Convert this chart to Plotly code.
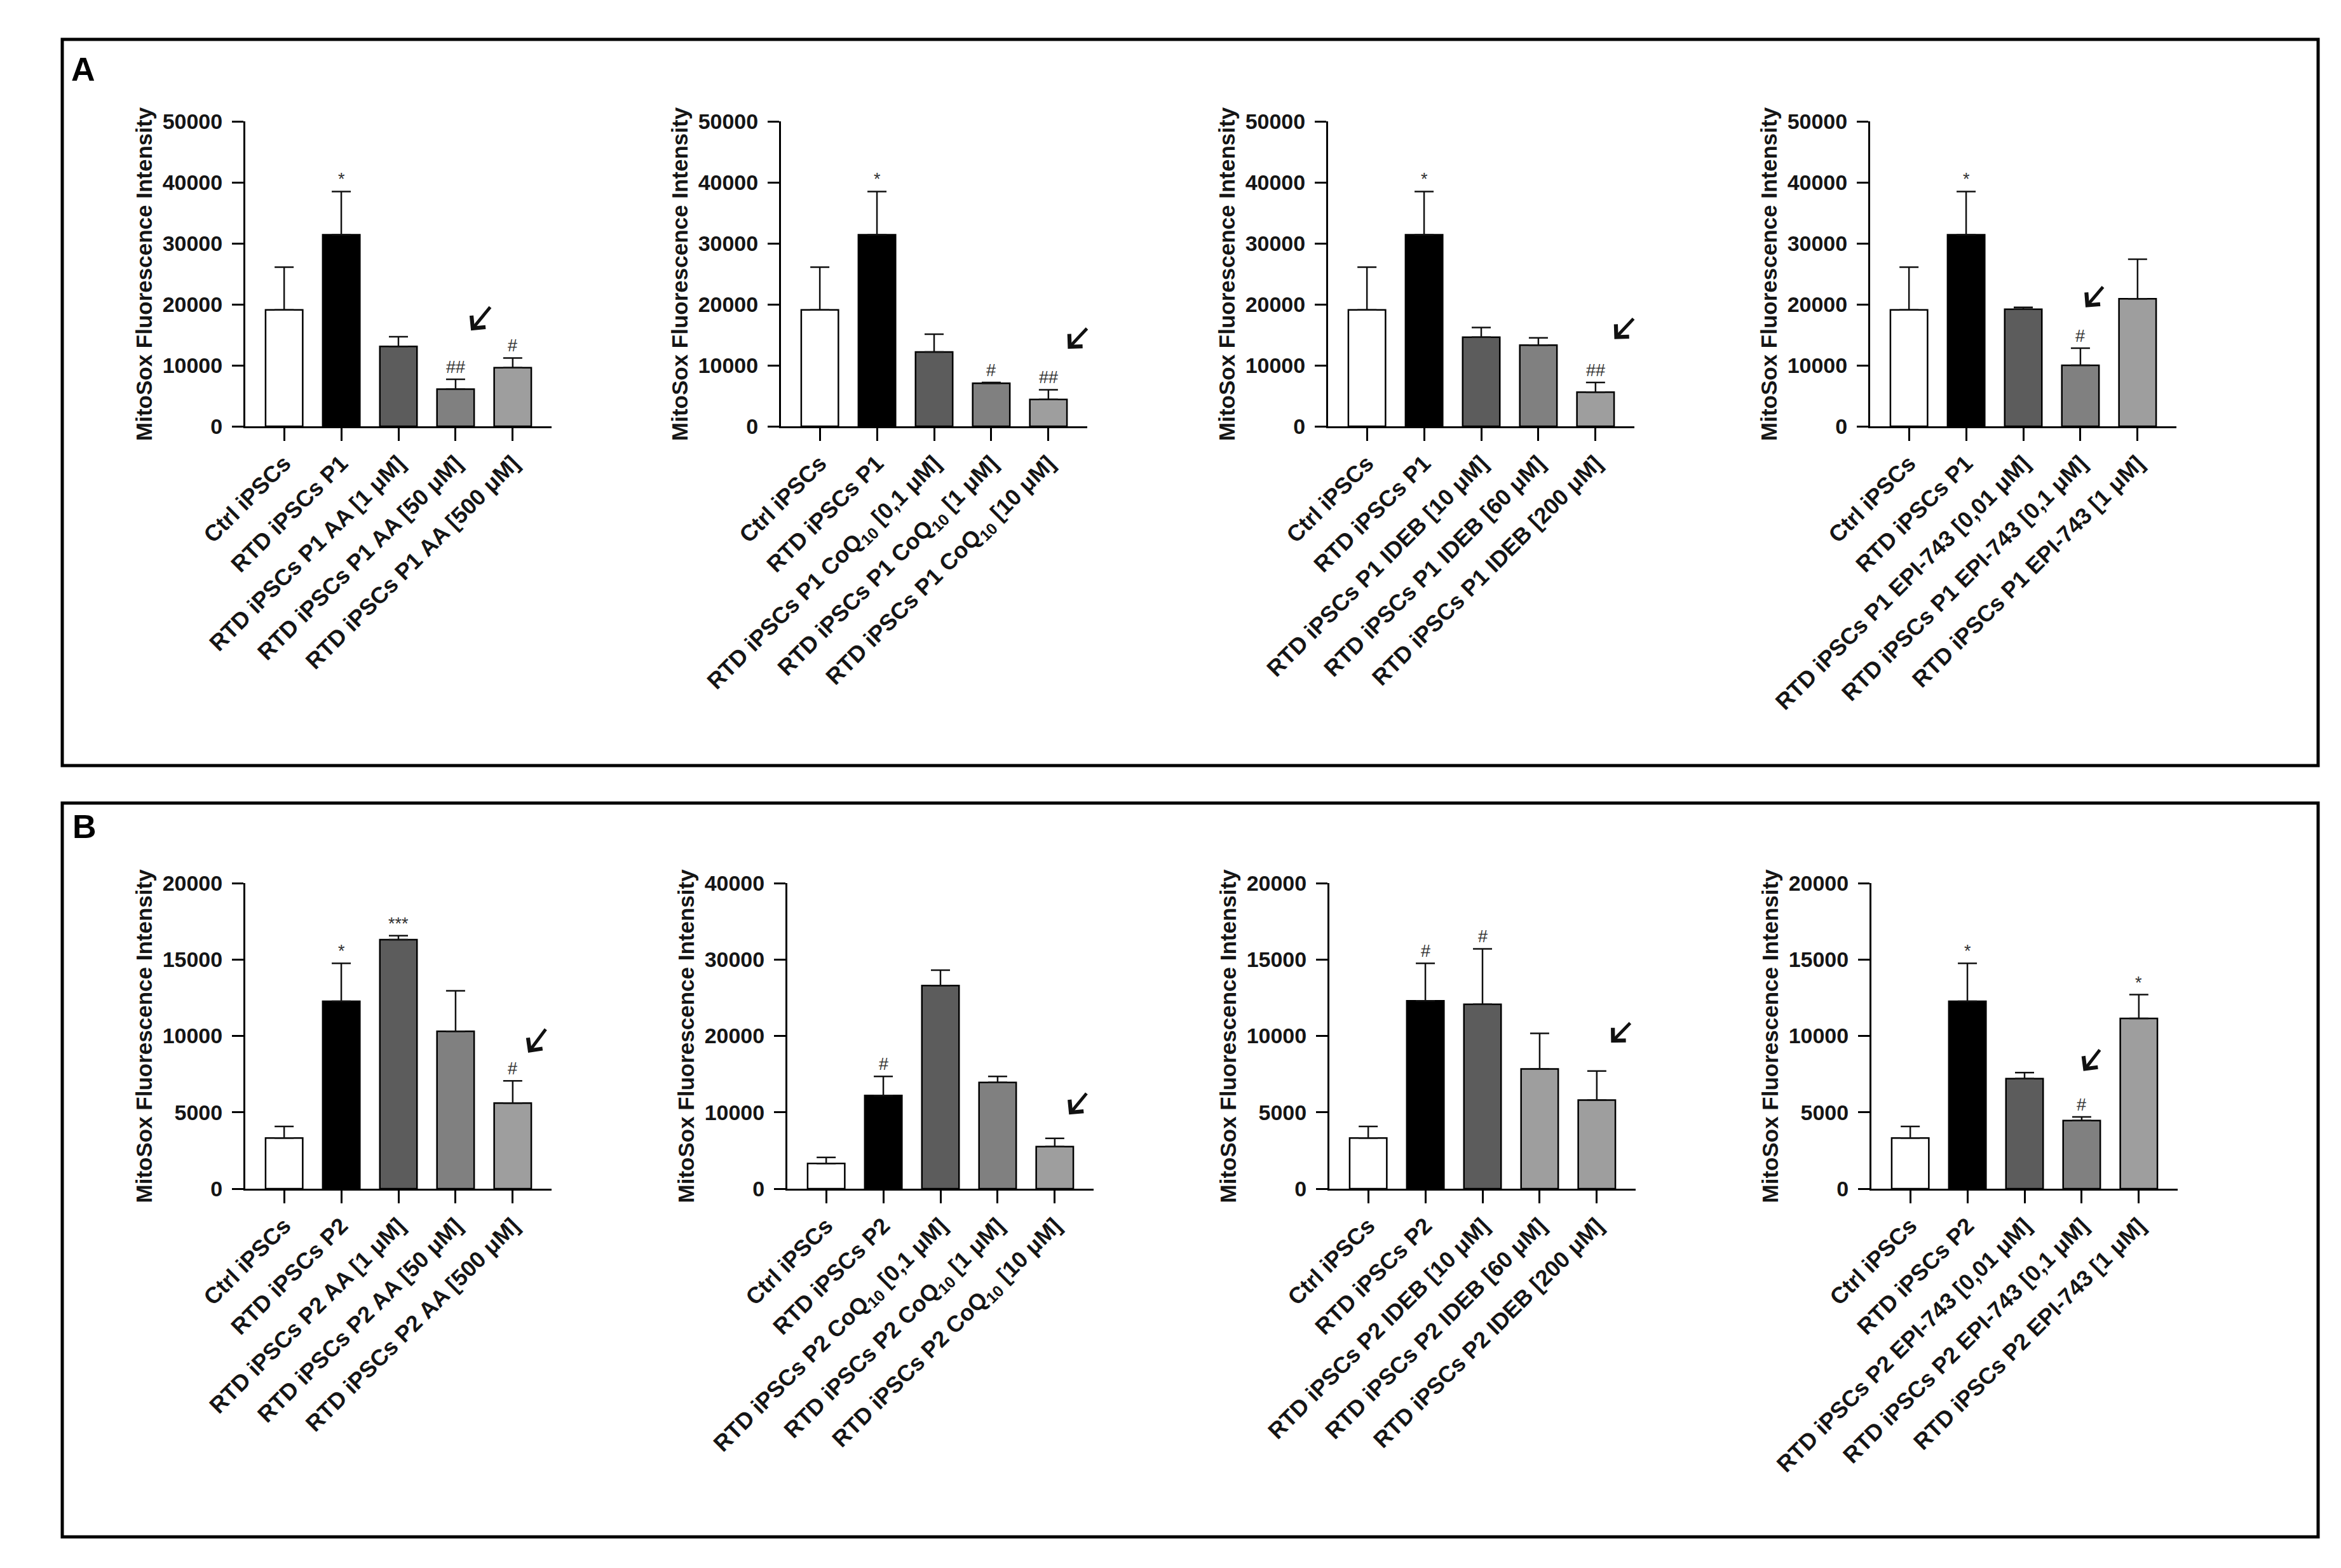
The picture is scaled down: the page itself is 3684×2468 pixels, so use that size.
import plotly.graph_objects as go

W, H = 3684, 2468

# ---------------- data ----------------
labels_A1 = ["Ctrl iPSCs", "RTD iPSCs P1", "RTD iPSCs P1 AA [1 μM]", "RTD iPSCs P1 AA [50 μM]", "RTD iPSCs P1 AA [500 μM]"]
means_A1 = [19100, 31400, 13100, 6100, 9600]
errs_A1 = [7000, 7100, 1600, 1600, 1600]
sig_A1 = ["", "*", "", "##", "#"]

labels_A2 = ["Ctrl iPSCs", "RTD iPSCs P1", "RTD iPSCs P1 CoQ<sub>10</sub> [0,1 μM]", "RTD iPSCs P1 CoQ<sub>10</sub> [1 μM]", "RTD iPSCs P1 CoQ<sub>10</sub> [10 μM]"]
means_A2 = [19100, 31400, 12200, 7050, 4400]
errs_A2 = [7000, 7100, 2900, 150, 1600]
sig_A2 = ["", "*", "", "#", "##"]

labels_A3 = ["Ctrl iPSCs", "RTD iPSCs P1", "RTD iPSCs P1 IDEB [10 μM]", "RTD iPSCs P1 IDEB [60 μM]", "RTD iPSCs P1 IDEB [200 μM]"]
means_A3 = [19100, 31400, 14600, 13300, 5600]
errs_A3 = [7000, 7100, 1600, 1200, 1600]
sig_A3 = ["", "*", "", "", "##"]

labels_A4 = ["Ctrl iPSCs", "RTD iPSCs P1", "RTD iPSCs P1 EPI-743 [0,01 μM]", "RTD iPSCs P1 EPI-743 [0,1 μM]", "RTD iPSCs P1 EPI-743 [1 μM]"]
means_A4 = [19100, 31400, 19200, 10000, 20900]
errs_A4 = [7000, 7100, 300, 2800, 6500]
sig_A4 = ["", "*", "", "#", ""]

labels_B1 = ["Ctrl iPSCs", "RTD iPSCs P2", "RTD iPSCs P2 AA [1 μM]", "RTD iPSCs P2 AA [50 μM]", "RTD iPSCs P2 AA [500 μM]"]
means_B1 = [3320, 12270, 16300, 10300, 5600]
errs_B1 = [760, 2480, 260, 2650, 1460]
sig_B1 = ["", "*", "***", "", "#"]

labels_B2 = ["Ctrl iPSCs", "RTD iPSCs P2", "RTD iPSCs P2 CoQ<sub>10</sub> [0,1 μM]", "RTD iPSCs P2 CoQ<sub>10</sub> [1 μM]", "RTD iPSCs P2 CoQ<sub>10</sub> [10 μM]"]
means_B2 = [3300, 12200, 26600, 13900, 5500]
errs_B2 = [800, 2500, 2000, 800, 1100]
sig_B2 = ["", "#", "", "", ""]

labels_B3 = ["Ctrl iPSCs", "RTD iPSCs P2", "RTD iPSCs P2 IDEB [10 μM]", "RTD iPSCs P2 IDEB [60 μM]", "RTD iPSCs P2 IDEB [200 μM]"]
means_B3 = [3320, 12300, 12070, 7840, 5800]
errs_B3 = [760, 2450, 3630, 2330, 1900]
sig_B3 = ["", "#", "#", "", ""]

labels_B4 = ["Ctrl iPSCs", "RTD iPSCs P2", "RTD iPSCs P2 EPI-743 [0,01 μM]", "RTD iPSCs P2 EPI-743 [0,1 μM]", "RTD iPSCs P2 EPI-743 [1 μM]"]
means_B4 = [3320, 12270, 7200, 4460, 11140]
errs_B4 = [760, 2480, 400, 240, 1560]
sig_B4 = ["", "*", "", "#", "*"]

ymax_A = [50000, 50000, 50000, 50000]
ymax_B = [20000, 40000, 20000, 20000]
ydtick_A = [10000, 10000, 10000, 10000]
ydtick_B = [5000, 10000, 5000, 5000]

# arrow tip / tail in data units (x category index, y value)
arrows = [
    (3.27, 15700, 3.62, 19700),
    (4.34, 12700, 4.69, 16200),
    (4.33, 14300, 4.68, 17800),
    (3.09, 19500, 3.41, 23000),
    (4.27, 8900, 4.59, 10500),
    (4.25, 9700, 4.57, 12600),
    (4.25, 9560, 4.60, 10900),
    (3.03, 7700, 3.33, 9150),
]

WHITE, BLACK, DARK, MID, LIGHT = "#ffffff", "#000000", "#5c5c5c", "#808080", "#9e9e9e"
colors_default = [WHITE, BLACK, DARK, MID, LIGHT]
colors_B3 = [WHITE, BLACK, DARK, LIGHT, LIGHT]

panels = [
    (labels_A1, means_A1, errs_A1, sig_A1, colors_default),
    (labels_A2, means_A2, errs_A2, sig_A2, colors_default),
    (labels_A3, means_A3, errs_A3, sig_A3, colors_default),
    (labels_A4, means_A4, errs_A4, sig_A4, colors_default),
    (labels_B1, means_B1, errs_B1, sig_B1, colors_default),
    (labels_B2, means_B2, errs_B2, sig_B2, colors_default),
    (labels_B3, means_B3, errs_B3, sig_B3, colors_B3),
    (labels_B4, means_B4, errs_B4, sig_B4, colors_default),
]
ymaxs = ymax_A + ymax_B
ydticks = ydtick_A + ydtick_B

# ---------------- layout geometry (px) ----------------
axis_x_A = [378, 1221, 2082, 2935]
axis_x_B = [378, 1231, 2084, 2937]
plot_w = 482
XR = [-0.68, 4.68]
row_top = [183, 1382]
row_bot = [663, 1863]

FONT = "Liberation Sans, Arial, sans-serif"
TICKC = "#151515"

fig = go.Figure()
layout = dict(
    template="none",
    width=W, height=H, margin=dict(l=0, r=0, t=0, b=0, pad=0, autoexpand=False),
    paper_bgcolor="white", plot_bgcolor="white", showlegend=False,
    font=dict(family=FONT, color=TICKC),
)
annotations = []
shapes = []

for i, (labs, means, errs, sig, cols) in enumerate(panels):
    row = i // 4
    col = i % 4
    ax_px = (axis_x_A if row == 0 else axis_x_B)[col]
    xa = "x" if i == 0 else f"x{i+1}"
    ya = "y" if i == 0 else f"y{i+1}"
    xkey = "xaxis" if i == 0 else f"xaxis{i+1}"
    ykey = "yaxis" if i == 0 else f"yaxis{i+1}"
    xs = list(range(len(means)))
    fig.add_trace(go.Bar(
        x=xs, y=means, width=0.65, xaxis=xa, yaxis=ya,
        marker=dict(color=cols, line=dict(color="black", width=2.5)),
        error_y=dict(type="data", array=errs, arrayminus=[0] * len(errs), symmetric=False,
                     thickness=2.5, width=15, color="#111111"),
        cliponaxis=False,
    ))
    y0 = (H - row_bot[row]) / H
    y1 = (H - row_top[row]) / H
    layout[xkey] = dict(
        domain=[ax_px / W, (ax_px + plot_w) / W], range=XR, anchor=ya, automargin=False,
        tickmode="array", tickvals=xs, ticktext=labs, tickangle=-45,
        ticks="outside", ticklen=20, tickwidth=3, tickcolor="black",
        showline=True, linewidth=3, linecolor="black", showgrid=False, zeroline=False,
        tickfont=dict(family=FONT, size=36, color=TICKC, weight="bold"),
        ticklabelstandoff=0, fixedrange=True,
    )
    layout[ykey] = dict(
        domain=[y0, y1], range=[0, ymaxs[i]], anchor=xa, automargin=False,
        tickmode="linear", tick0=0, dtick=ydticks[i], tickformat="d",
        ticks="outside", ticklen=18, tickwidth=3, tickcolor="black",
        showline=True, linewidth=3, linecolor="black", showgrid=False, zeroline=False,
        tickfont=dict(family=FONT, size=34, color=TICKC, weight="bold"),
        ticklabelstandoff=8, fixedrange=True,
    )
    # y-axis title
    annotations.append(dict(
        text="MitoSox Fluorescence Intensity", textangle=-90, xref="paper", yref="paper",
        x=(ax_px - 160) / W, y=(y0 + y1) / 2, xanchor="center", yanchor="middle",
        showarrow=False, font=dict(family=FONT, size=35, color=TICKC, weight="bold"),
    ))
    # significance marks
    for j, s in enumerate(sig):
        if s:
            annotations.append(dict(
                text=s, xref=xa, yref=ya, x=j, y=means[j] + errs[j], xanchor="center",
                yanchor="bottom", yshift=2, showarrow=False,
                font=dict(family=FONT, size=27, color="#333333"),
            ))
    # arrow
    tx, ty, sx, sy = arrows[i]
    annotations.append(dict(
        text="", xref=xa, yref=ya, x=tx, y=ty, axref=xa, ayref=ya, ax=sx, ay=sy,
        showarrow=True, arrowhead=4, arrowsize=1.1, arrowwidth=5, arrowcolor="#111111",
        standoff=0, startstandoff=0,
    ))

# panel frames
frames_px = [(90, 54, 3640, 1197), (90, 1256, 3640, 2411)]
for (l, t, r, b) in frames_px:
    shapes.append(dict(type="rect", xref="paper", yref="paper",
                       x0=l / W, x1=r / W, y0=(H - b) / H, y1=(H - t) / H,
                       line=dict(color="black", width=5), fillcolor="rgba(0,0,0,0)"))

# panel letters
for letter, (px, py) in zip(["A", "B"], [(102, 70), (104, 1262)]):
    annotations.append(dict(
        text=letter, xref="paper", yref="paper", x=px / W, y=(H - py) / H,
        xanchor="left", yanchor="top", showarrow=False,
        font=dict(family=FONT, size=52, color="black", weight="bold"),
    ))

layout["annotations"] = annotations
layout["shapes"] = shapes
fig.update_layout(**layout)
fig.write_html("out.html")
